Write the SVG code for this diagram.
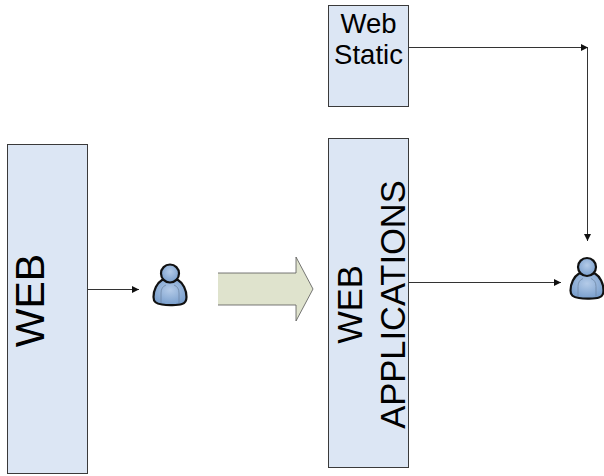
<svg xmlns="http://www.w3.org/2000/svg" width="604" height="476" viewBox="0 0 604 476">
<defs>
<marker id="arr" markerUnits="userSpaceOnUse" markerWidth="8" markerHeight="8" refX="7" refY="4" orient="auto"><path d="M0 0.500L7 4L0 7.500z" fill="#111"/></marker>
<radialGradient id="pb" cx="0.500" cy="0.400" r="0.700"><stop offset="0" stop-color="#b4cbe8"/><stop offset="1" stop-color="#6f97c8"/></radialGradient>
<g id="person">
<path d="M-8 -5C-13 -2 -16.500 5 -16.500 12C-16.500 17 -14 18.500 -8 19.500C-3 20.300 8 20.300 12 19C15.500 18 16.500 16 16.500 12C16.500 5 13 -2 8 -5z" fill="url(#pb)" stroke="#111" stroke-width="2.200" stroke-linejoin="round"/>
<path d="M-9 18V8Q-9 2 -4 0M9 18V8Q9 2 4 0" fill="none" stroke="#6f86a3" stroke-width="0.800"/>
<circle cx="0" cy="-11.500" r="9" fill="url(#pb)" stroke="#111" stroke-width="2.200"/>
</g>
</defs>
<style>
.box{fill:#dce6f4;stroke:#3a3a3a;stroke-width:1}
.t{font-family:"Liberation Sans",Arial,sans-serif;fill:#000;text-anchor:middle}
.c{fill:none;stroke:#333;stroke-width:1}
</style>
<rect width="604" height="476" fill="#fff"/>
<g id="connectors">
<path class="c" d="M88 289.500H139" marker-end="url(#arr)"/>
<path class="c" d="M409 47.500H588" marker-end="url(#arr)"/>
<path class="c" d="M587.500 47V241" marker-end="url(#arr)"/>
<path class="c" d="M409 282.500H561" marker-end="url(#arr)"/>
</g>
<g id="node-web"><rect class="box" x="7.500" y="144.500" width="80" height="329"/><text class="t" font-size="41" transform="translate(44 300.500) rotate(-90)">WEB</text></g>
<g id="node-user-left"><use href="#person" x="170" y="285"/></g>
<g id="block-arrow"><path d="M218 273H296V257L313 289L296 321V305H218z" fill="#dfe3cd"/><path d="M218 273H296V257L313 289L296 321V305H218" fill="none" stroke="#555" stroke-width="0.800"/></g>
<g id="node-web-static"><rect class="box" x="328.500" y="5.500" width="80" height="101"/><text class="t" font-size="27.500"><tspan x="368.500" y="33">Web</tspan><tspan x="368.500" y="64">Static</tspan></text></g>
<g id="node-web-applications"><rect class="box" x="328.500" y="138.500" width="80" height="329"/><text class="t" font-size="34.500" transform="translate(362 304.500) rotate(-90)"><tspan x="0" y="0">WEB</tspan><tspan x="0" y="43">APPLICATIONS</tspan></text></g>
<g id="node-user-right"><use href="#person" x="587" y="278.500"/></g>
</svg>
